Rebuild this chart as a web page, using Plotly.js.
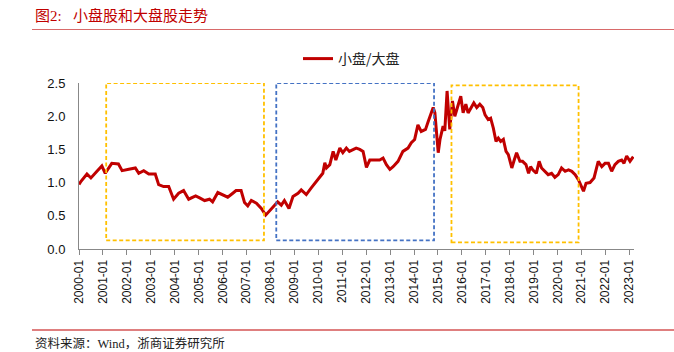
<!DOCTYPE html>
<html>
<head>
<meta charset="utf-8">
<script src="https://cdn.plot.ly/plotly-3.0.1.min.js"></script>
<style>
html,body{margin:0;padding:0;background:#fff;}
#chart{width:674px;height:352px;}
</style>
</head>
<body>
<div id="chart"></div>
<script>
// ---- data ----
const dates = [
"2000-01-01","2000-02-01","2000-05-01","2000-07-01","2000-10-01","2000-12-15",
"2001-02-05","2001-05-15","2001-08-25","2001-10-20","2002-01-30","2002-05-10",
"2002-07-01","2002-09-15","2002-12-01","2003-03-10","2003-05-01","2003-07-15",
"2003-10-01","2003-12-15","2004-03-01","2004-05-15","2004-08-01","2004-11-15",
"2005-01-15","2005-04-01","2005-06-15","2005-08-01","2005-10-20","2006-01-05",
"2006-03-20","2006-06-05","2006-07-25","2006-10-10","2006-12-01","2007-01-20",
"2007-03-15","2007-06-01","2007-08-15","2007-10-20","2007-12-20","2008-03-05",
"2008-04-20","2008-06-15","2008-08-01","2008-10-10","2008-12-10","2009-02-25",
"2009-04-15","2009-07-01","2009-09-15","2009-12-01","2010-01-20","2010-03-10",
"2010-04-10","2010-05-05","2010-06-25","2010-08-15","2010-09-25","2010-11-25",
"2011-01-10","2011-03-05","2011-04-20","2011-06-10","2011-08-01","2011-09-25",
"2011-11-15","2012-01-05","2012-02-25","2012-05-10","2012-07-25","2012-09-15",
"2012-11-05","2012-12-28","2013-02-15","2013-05-01","2013-07-15","2013-10-01",
"2013-11-20","2014-01-10","2014-03-01","2014-04-20","2014-06-25","2014-08-05",
"2014-09-25","2014-10-20","2014-11-15","2015-01-05","2015-02-01","2015-03-20",
"2015-04-15","2015-05-20","2015-06-30","2015-08-10","2015-09-15","2015-11-05",
"2015-12-15","2016-01-20","2016-03-01","2016-04-05","2016-05-30","2016-07-01",
"2016-08-15","2016-10-01","2016-11-15","2016-12-20","2017-02-05","2017-03-15",
"2017-04-25","2017-06-05","2017-07-10","2017-08-15","2017-09-25","2017-11-05",
"2017-12-10","2018-02-01","2018-03-10","2018-04-15","2018-06-05","2018-07-15",
"2018-09-05","2018-10-15","2018-11-15","2018-12-20","2019-02-10","2019-03-25",
"2019-05-01","2019-06-20","2019-08-10","2019-10-01","2019-11-20","2020-01-10",
"2020-03-01","2020-04-25","2020-06-15","2020-08-05","2020-09-25","2020-11-15",
"2020-12-20","2021-01-30","2021-03-10","2021-05-10","2021-07-10","2021-09-12",
"2021-11-05","2021-12-25","2022-02-15","2022-04-05","2022-05-25","2022-07-15",
"2022-09-05","2022-10-10","2022-11-20","2023-01-10","2023-03-01"
];
const ratio = [
0.97,1.02,1.13,1.07,1.17,1.25,
1.14,1.29,1.28,1.18,1.20,1.22,
1.14,1.18,1.13,1.13,0.97,0.94,
0.94,0.75,0.84,0.88,0.75,0.80,
0.77,0.73,0.75,0.71,0.85,0.82,
0.78,0.84,0.88,0.88,0.70,0.65,
0.73,0.69,0.61,0.51,0.57,0.66,
0.71,0.66,0.73,0.61,0.79,0.84,
0.89,0.82,0.92,1.02,1.09,1.14,
1.30,1.22,1.27,1.47,1.34,1.52,
1.45,1.52,1.47,1.50,1.52,1.50,
1.47,1.23,1.34,1.34,1.34,1.37,
1.27,1.20,1.24,1.32,1.47,1.52,
1.60,1.65,1.87,1.77,1.80,1.92,
2.07,2.13,2.05,1.45,1.65,1.85,
1.78,2.38,1.80,2.23,2.00,2.18,
2.30,2.05,2.18,2.05,2.15,2.20,
2.13,2.18,2.13,2.02,1.95,1.97,
1.82,1.62,1.67,1.62,1.65,1.47,
1.42,1.22,1.34,1.45,1.32,1.32,
1.27,1.14,1.24,1.19,1.14,1.32,
1.22,1.17,1.12,1.14,1.08,1.12,
1.22,1.17,1.19,1.17,1.12,1.04,
0.97,0.87,0.99,1.00,1.07,1.32,
1.24,1.29,1.29,1.17,1.27,1.32,
1.34,1.29,1.40,1.32,1.39
];
const seriesName = "小盘/大盘";
const tickDates = ["2000-01-01","2001-01-01","2002-01-01","2003-01-01","2004-01-01","2005-01-01",
"2006-01-01","2007-01-01","2008-01-01","2009-01-01","2010-01-01","2011-01-01","2012-01-01",
"2013-01-01","2014-01-01","2015-01-01","2016-01-01","2017-01-01","2018-01-01","2019-01-01",
"2020-01-01","2021-01-01","2022-01-01","2023-01-01"];
const tickLabels = ["2000-01","2001-01","2002-01","2003-01","2004-01","2005-01","2006-01",
"2007-01","2008-01","2009-01","2010-01","2011-01","2012-01","2013-01","2014-01","2015-01",
"2016-01","2017-01","2018-01","2019-01","2020-01","2021-01","2022-01","2023-01"];
// highlighted periods (dashed boxes)
const boxStart = ["2001-02-19","2008-03-30","2015-07-26"];
const boxEnd   = ["2007-09-24","2014-11-02","2020-11-16"];
const boxLow   = [0.13,0.13,0.10];
const boxHigh  = [2.50,2.50,2.465];
const titleText = "图2:   小盘股和大盘股走势";
const sourceText = "资料来源：Wind，浙商证券研究所";

// ---- styles ----
const boxColors = ["#FFC000","#4472C4","#FFC000"];
const cjk = "Liberation Serif, Noto Sans CJK SC, serif";
const L = 79, R = 634, T = 83, B = 249, W = 674, H = 352;
const pw = R - L, ph = B - T;
const px = v => (v - L) / pw;
const py = v => (B - v) / ph;

const shapes = boxStart.map((s, i) => ({
  type: "rect", xref: "x", yref: "y",
  x0: s, x1: boxEnd[i], y0: boxLow[i], y1: boxHigh[i],
  line: {color: boxColors[i], width: 1.8, dash: "4px,2.5px"},
  fillcolor: "rgba(0,0,0,0)", layer: "above"
}));
shapes.push({type:"line", xref:"paper", yref:"paper", x0:px(32), x1:px(674), y0:py(29.5), y1:py(29.5),
  line:{color:"#D86A6A", width:1.2}});
shapes.push({type:"line", xref:"paper", yref:"paper", x0:px(32), x1:px(674), y0:py(330), y1:py(330),
  line:{color:"#C00000", width:1.2}});

const trace = {
  x: dates, y: ratio, type: "scatter", mode: "lines", name: seriesName,
  line: {color: "#C00000", width: 3}
};

const layout = {
  width: W, height: H,
  margin: {l: L, r: W - R, t: T, b: H - B, pad: 0},
  paper_bgcolor: "#fff", plot_bgcolor: "#fff",
  showlegend: true,
  legend: {orientation: "h", x: px(298), xanchor: "left", y: py(59), yanchor: "middle",
    font: {family: "Noto Sans CJK SC, sans-serif", size: 14, color: "#222"},
    bgcolor: "rgba(0,0,0,0)"},
  xaxis: {
    type: "date", range: ["2000-01-01","2023-03-12"],
    tickmode: "array", tickvals: tickDates, ticktext: tickLabels,
    tickangle: -90, ticks: "outside", ticklen: 5, tickcolor: "#888", tickwidth: 1,
    showline: true, linecolor: "#888", linewidth: 1, showgrid: false, zeroline: false,
    tickfont: {family: "Liberation Sans, Arial, sans-serif", size: 12, color: "#111"}
  },
  yaxis: {
    range: [0, 2.5], dtick: 0.5, tick0: 0, tickformat: ".1f",
    ticks: "", showline: true, linecolor: "#888", linewidth: 1, showgrid: false, zeroline: false,
    ticklabelstandoff: 10,
    tickfont: {family: "Liberation Sans, Arial, sans-serif", size: 13, color: "#111"}
  },
  shapes: shapes,
  annotations: [
    {text: titleText, xref: "paper", yref: "paper", x: px(33), y: py(15), xanchor: "left", yanchor: "middle",
      showarrow: false, font: {family: cjk, size: 15, color: "#C00000"}},
    {text: sourceText, xref: "paper", yref: "paper", x: px(33), y: py(343), xanchor: "left", yanchor: "middle",
      showarrow: false, font: {family: cjk, size: 12.5, color: "#222"}}
  ]
};

Plotly.newPlot("chart", [trace], layout, {staticPlot: true, displayModeBar: false});
</script>
</body>
</html>
